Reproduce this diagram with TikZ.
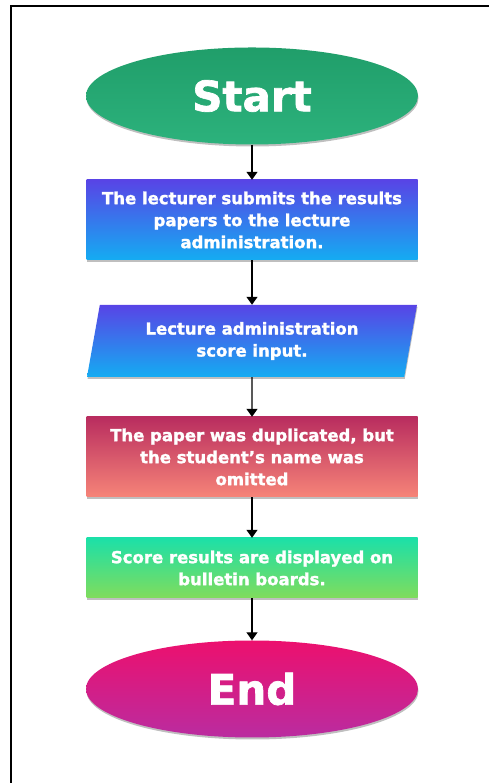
\documentclass[tikz,border=0pt]{standalone}
\usepackage{fontspec}
\setsansfont{DejaVu Sans}[BoldFont={DejaVu Sans Bold}, BoldFeatures={FakeBold=1.6}]
\usetikzlibrary{positioning,shapes.geometric,shadows,arrows.meta}
\definecolor{startTop}{RGB}{32,158,106}
\definecolor{startBottom}{RGB}{44,178,124}
\definecolor{blueTop}{RGB}{88,68,230}
\definecolor{blueBottom}{RGB}{20,172,242}
\definecolor{redTop}{RGB}{185,45,95}
\definecolor{redBottom}{RGB}{246,132,120}
\definecolor{greenTop}{RGB}{28,224,168}
\definecolor{greenBottom}{RGB}{128,220,92}
\definecolor{endTop}{RGB}{236,16,110}
\definecolor{endBottom}{RGB}{186,44,160}
\tikzset{
  termnode/.style={ellipse, minimum width=332pt, minimum height=97pt, text=white,
    font=\sffamily\bfseries\fontsize{42}{48}\selectfont,
    drop shadow={opacity=0.5, shadow xshift=0.5pt, shadow yshift=-2pt}},
  procbox/.style={rectangle, minimum width=331pt, text=white, align=center,
    font=\sffamily\bfseries\fontsize{16.5}{22}\selectfont,
    drop shadow={opacity=0.5, shadow xshift=0.5pt, shadow yshift=-2pt}},
  iobox/.style={procbox, trapezium, trapezium left angle=74, trapezium right angle=106,
    trapezium stretches body, minimum width=330pt, minimum height=72pt},
  flow/.style={->, line width=1.3pt}
}

\begin{document}
\begin{tikzpicture}[x=1pt, y=1pt, >={Triangle[width=11pt,length=8pt]}]
        \useasboundingbox (0,0) rectangle (489,783);
        \draw[line width=2pt] (11,0) |- (489,777);

        \node[termnode, top color=startTop, bottom color=startBottom] (start) at (252,687) {Start};
        \node[procbox, minimum height=80pt, top color=blueTop, bottom color=blueBottom] (submit) at (252,563)
          {The lecturer submits the results\\papers to the lecture\\administration.};
        \node[iobox, top color=blueTop, bottom color=blueBottom] (input) at (252,442)
          {Lecture administration\\score input.};
        \node[procbox, minimum height=80pt, top color=redTop, bottom color=redBottom] (dup) at (252,326)
          {The paper was duplicated, but\\the student’s name was\\omitted};
        \node[procbox, minimum height=60pt, top color=greenTop, bottom color=greenBottom] (board) at (252,215)
          {Score results are displayed on\\bulletin boards.};
        \node[termnode, top color=endTop, bottom color=endBottom] (end) at (252,94) {End};

        \draw[flow] (start) -- (submit);
        \draw[flow] (submit) -- (submit |- input.north);
        \draw[flow] (input) -- (input |- dup.north);
        \draw[flow] (dup) -- (board);
        \draw[flow] (board) -- (end);
      \end{tikzpicture}
\end{document}
